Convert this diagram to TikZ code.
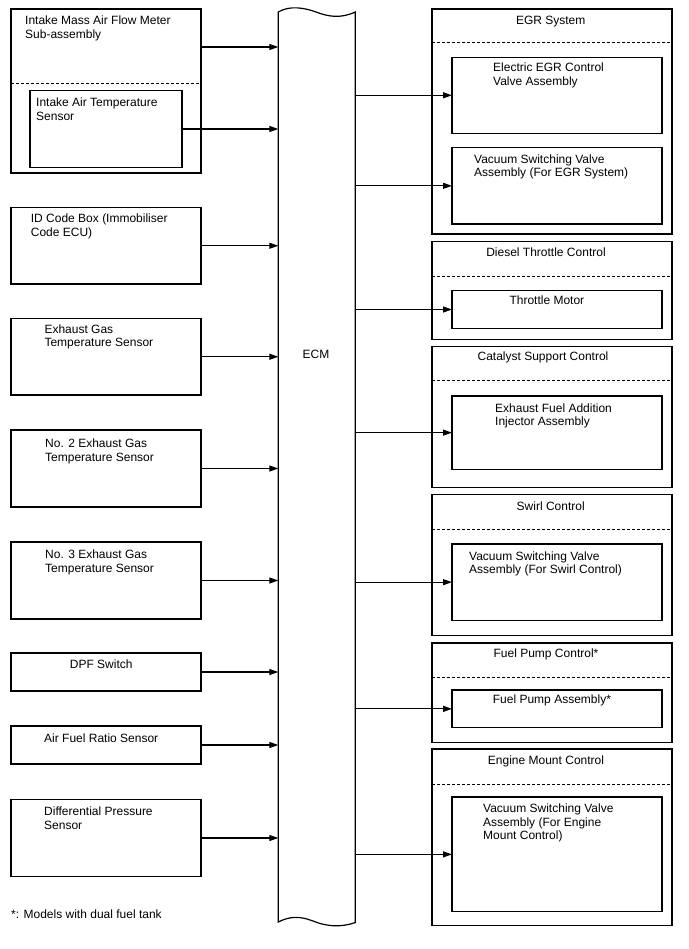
\documentclass[tikz,border=0pt]{standalone}
\usepackage{fontspec}
\setmainfont{Liberation Sans}
\usetikzlibrary{arrows.meta,calc}
\begin{document}
\begin{tikzpicture}[x=1pt,y=-1pt,
  box/.style={draw, line width=1.2pt, anchor=north west, inner sep=0pt, outer sep=0pt},
  txt/.style={anchor=north west, inner sep=0pt, align=left, font=\fontsize{12}{13.5}\selectfont},
  ttl/.style={anchor=north, inner sep=0pt, font=\fontsize{12}{13.5}\selectfont},
  arr/.style={line width=1.2pt, -{Triangle[length=9pt,width=6pt]}},
  sep/.style={line width=1pt, dash pattern=on 3pt off 2pt}]
\useasboundingbox (0,0) rectangle (688,949);

% ---------------- left side ----------------
\node[box, minimum width=190pt, minimum height=164pt] (maf) at (11,9) {};
\draw[sep] ($(maf.north west)+(0,75)$) -- ($(maf.north east)+(0,75)$);
\node[txt] (maft) at (25,15.7) {Intake Mass Air Flow Meter\\Sub-assembly};
\node[box, minimum width=152pt, minimum height=77pt] (iat) at (30,90.5) {};
\node[txt] (iatt) at (36,97.7) {Intake Air Temperature\\Sensor};
\coordinate (mafo) at ($(maf.north east)+(0,38)$);

\node[box, minimum width=190pt, minimum height=76.5pt] (id) at (11,207.5) {};
\node[txt] (idt) at (30.7,214) {ID Code Box (Immobiliser\\Code ECU)};

\node[box, minimum width=190pt, minimum height=76.5pt] (egt1) at (11,318.5) {};
\node[txt] (egt1t) at (44.3,324.3) {Exhaust Gas\\Temperature Sensor};

\node[box, minimum width=190pt, minimum height=77pt] (egt2) at (11,430) {};
\node[txt] (egt2t) at (45,439) {No. 2 Exhaust Gas\\Temperature Sensor};

\node[box, minimum width=190pt, minimum height=77pt] (egt3) at (11,542) {};
\node[txt] (egt3t) at (45,550) {No. 3 Exhaust Gas\\Temperature Sensor};

\node[box, minimum width=190pt, minimum height=38pt] (dpf) at (11,653) {};
\node[txt] (dpft) at (69.7,659.3) {DPF Switch};

\node[box, minimum width=190pt, minimum height=38pt] (afr) at (11,726) {};
\node[txt] (afrt) at (44,733.3) {Air Fuel Ratio Sensor};

\node[box, minimum width=190pt, minimum height=77pt] (dp) at (11,799.5) {};
\node[txt] (dpt) at (44,806.7) {Differential Pressure\\Sensor};

\node[txt] (note) at (11,909.3) {*: Models with dual fuel tank};

% ---------------- ECM ----------------
\node[inner sep=0pt, outer sep=0pt, minimum width=77pt, minimum height=910pt, anchor=north west] (ecm) at (278.3,12) {};
\draw[line width=1.2pt] (278.3,12) .. controls (290,5) and (305,8) .. (316,12)
  .. controls (328,16.5) and (340,19) .. (355.3,12) -- (355.3,922.5)
  .. controls (340,928) and (325,926) .. (313,921)
  .. controls (300,916) and (290,916) .. (278.3,922) -- cycle;
\node[font=\fontsize{12}{13.5}\selectfont, inner sep=0pt] (ecmt) at (316,354) {ECM};

% ---------------- right side ----------------
% EGR System
\node[box, minimum width=240pt, minimum height=225pt] (egr) at (432,9) {};
\draw[sep] ($(egr.north west)+(0,34)$) -- ($(egr.north east)+(0,34)$);
\node[ttl] (egrt) at (550.7,15.7) {EGR System};
\node[box, minimum width=210pt, minimum height=76pt] (egr1) at (452,57.3) {};
\node[txt] (egr1t) at (493,62.7) {Electric EGR Control\\Valve Assembly};
\node[box, minimum width=210pt, minimum height=76.3pt] (egr2) at (452,147.7) {};
\node[txt] (egr2t) at (474,154.3) {Vacuum Switching Valve\\Assembly (For EGR System)};

% Diesel Throttle Control
\node[box, minimum width=240pt, minimum height=97.6pt] (dtc) at (432,241.7) {};
\draw[sep] ($(dtc.north west)+(0,35.3)$) -- ($(dtc.north east)+(0,35.3)$);
\node[ttl] (dtct) at (546,247.3) {Diesel Throttle Control};
\node[box, minimum width=210pt, minimum height=37.6pt] (thr) at (452,290.7) {};
\node[txt] (thrt) at (509.3,296) {Throttle Motor};

% Catalyst Support Control
\node[box, minimum width=240pt, minimum height=140.6pt] (cat) at (432,346.7) {};
\draw[sep] ($(cat.north west)+(0,34)$) -- ($(cat.north east)+(0,34)$);
\node[ttl] (catt) at (543,351.7) {Catalyst Support Control};
\node[box, minimum width=210pt, minimum height=73.3pt] (efi) at (452,396) {};
\node[txt] (efit) at (495,403.3) {Exhaust Fuel Addition\\Injector Assembly};

% Swirl Control
\node[box, minimum width=240pt, minimum height=141pt] (swc) at (432,494.7) {};
\draw[sep] ($(swc.north west)+(0,35)$) -- ($(swc.north east)+(0,35)$);
\node[ttl] (swct) at (550.7,501.3) {Swirl Control};
\node[box, minimum width=210pt, minimum height=76.3pt] (vsw) at (452,544) {};
\node[txt] (vswt) at (469,551.3) {Vacuum Switching Valve\\Assembly (For Swirl Control)};

% Fuel Pump Control
\node[box, minimum width=240pt, minimum height=99.7pt] (fpc) at (432,643) {};
\draw[sep] ($(fpc.north west)+(0,34)$) -- ($(fpc.north east)+(0,34)$);
\node[ttl] (fpct) at (546,649) {Fuel Pump Control*};
\node[box, minimum width=210pt, minimum height=37.7pt] (fpa) at (452,690) {};
\node[txt] (fpat) at (492.7,694.3) {Fuel Pump Assembly*};

% Engine Mount Control
\node[box, minimum width=240pt, minimum height=176.7pt] (emc) at (432,749) {};
\draw[sep] ($(emc.north west)+(0,35)$) -- ($(emc.north east)+(0,35)$);
\node[ttl] (emct) at (546,755.7) {Engine Mount Control};
\node[box, minimum width=210pt, minimum height=114.7pt] (vem) at (452,797) {};
\node[txt] (vemt) at (483,803.7) {Vacuum Switching Valve\\Assembly (For Engine\\Mount Control)};

% ---------------- connectors ----------------
\draw[arr] (mafo) -- (mafo -| ecm.west);
\foreach \b in {iat,id,egt1,egt2,egt3,dpf,afr,dp}
  \draw[arr] (\b.east) -- (\b.east -| ecm.west);
\foreach \b in {egr1,egr2,thr,efi,vsw,fpa,vem}
  \draw[arr] (\b.west -| ecm.east) -- (\b.west);
\end{tikzpicture}
\end{document}
